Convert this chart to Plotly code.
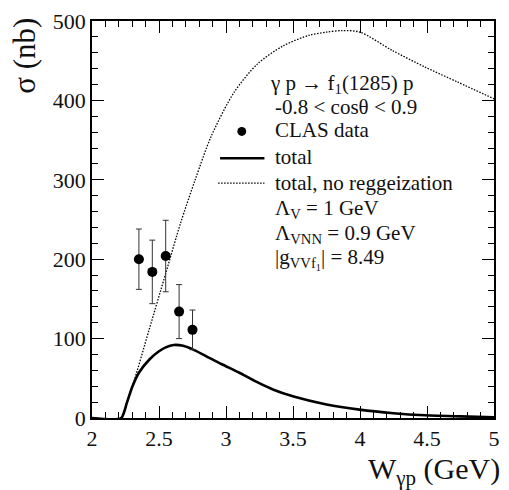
import plotly.graph_objects as go

# ---------------- data ----------------
clas_w = [2.35, 2.45, 2.55, 2.65, 2.75]
clas_sigma = [200, 184, 204, 134, 111]
clas_err = [38, 40, 45, 34, 25]

total_w = [2.0, 2.218, 2.26, 2.30, 2.35, 2.43, 2.50, 2.55, 2.61, 2.68, 2.745, 2.85,
           2.965, 3.10, 3.21, 3.35, 3.505, 3.75, 3.995, 4.25, 4.485, 4.75, 5.0]
total_sigma = [0, 0, 19, 39, 57, 74, 84, 89, 92, 91, 87, 78,
               68, 57, 47, 36, 27, 17, 10.5, 6, 3.4, 2, 1]

noregge_w = [2.218, 2.30, 2.426, 2.55, 2.66, 2.77, 2.89, 3.06, 3.235, 3.43,
             3.62, 3.75, 3.87, 4.0, 4.24, 4.485, 4.73, 5.0]
noregge_sigma = [0, 39, 111, 182, 245, 300, 355, 410, 446, 469,
                 482, 486, 488, 486, 463, 442, 423, 402]

x_ticks = [2, 2.5, 3, 3.5, 4, 4.5, 5]
x_ticklabels = ["2", "2.5", "3", "3.5", "4", "4.5", "5"]
y_ticks = [0, 100, 200, 300, 400, 500]
y_ticklabels = ["0", "100", "200", "300", "400", "500"]

legend_lines = [
    "γ p → f<sub>1</sub>(1285) p",
    "-0.8 < cosθ < 0.9",
    "CLAS data",
    "total",
    "total, no reggeization",
    "Λ<sub>V</sub> = 1 GeV",
    "Λ<sub>VNN</sub> = 0.9 GeV",
    "|g<sub>VVf<sub>1</sub></sub>| = 8.49",
]

# ---------------- layout geometry ----------------
W, H = 509, 490
ML, MR, MT, MB = 92, 9, 19, 72
PW, PH = W - ML - MR, H - MT - MB
FONT = "'Liberation Serif', 'DejaVu Serif', serif"
TXT = "#111111"


def px(x):
    return (x - ML) / PW


def py(y):
    return (H - MB - y) / PH


fig = go.Figure()

fig.add_trace(go.Scatter(
    x=noregge_w, y=noregge_sigma, mode="lines",
    line=dict(color="black", width=1.3, dash="1.5px,1.5px", shape="spline", smoothing=0.8),
    showlegend=False, hoverinfo="skip"))

fig.add_trace(go.Scatter(
    x=total_w, y=total_sigma, mode="lines",
    line=dict(color="black", width=2.6, shape="spline", smoothing=0.6),
    showlegend=False, hoverinfo="skip"))

fig.add_trace(go.Scatter(
    x=clas_w, y=clas_sigma, mode="markers",
    marker=dict(color="black", size=10),
    error_y=dict(type="data", array=clas_err, color="#333333", thickness=1, width=3),
    showlegend=False))

axis_common = dict(
    showline=True, linecolor="black", linewidth=1.5, mirror="ticks",
    ticks="inside", ticklen=12, tickwidth=1, tickcolor="black",
    showgrid=False, zeroline=False,
    tickfont=dict(family=FONT, size=22, color=TXT),
)

fig.update_xaxes(range=[2, 5], tickvals=x_ticks, ticktext=x_ticklabels,
                 minor=dict(dtick=0.1, ticklen=6, tickwidth=1, ticks="inside", tickcolor="black"),
                 **axis_common)
fig.update_yaxes(range=[0, 500], tickvals=y_ticks, ticktext=y_ticklabels,
                 minor=dict(dtick=20, ticklen=6, tickwidth=1, ticks="inside", tickcolor="black"),
                 **axis_common)

annotations = []
# axis titles
annotations.append(dict(x=px(508), y=py(471), xref="paper", yref="paper",
                        text="W<sub>γp</sub> (GeV)", showarrow=False,
                        xanchor="right", yanchor="middle",
                        font=dict(family=FONT, size=30, color=TXT)))
annotations.append(dict(x=px(24), y=py(54), xref="paper", yref="paper",
                        text="σ (nb)", showarrow=False, textangle=-90,
                        xanchor="center", yanchor="middle",
                        font=dict(family=FONT, size=31, color=TXT)))

row_y = [82, 105, 129, 156, 182, 208, 233, 258]
row_x = [271, 276, 276, 276, 276, 276, 276, 276]
for t, yy, xx in zip(legend_lines, row_y, row_x):
    annotations.append(dict(x=px(xx), y=py(yy), xref="paper", yref="paper",
                            text=t, showarrow=False, xanchor="left", yanchor="middle",
                            font=dict(family=FONT, size=21, color=TXT)))

shapes = [
    # legend marker for data
    dict(type="circle", xref="paper", yref="paper",
         x0=px(239.5), x1=px(248.5), y0=py(134.5), y1=py(125.5),
         fillcolor="black", line=dict(color="black", width=0)),
    # solid line sample
    dict(type="line", xref="paper", yref="paper",
         x0=px(222), x1=px(267), y0=py(157), y1=py(157),
         line=dict(color="black", width=2.6)),
    # dotted line sample
    dict(type="line", xref="paper", yref="paper",
         x0=px(220), x1=px(267), y0=py(182), y1=py(182),
         line=dict(color="black", width=1.3, dash="1.5px,1.5px")),
]

fig.update_layout(
    width=W, height=H,
    margin=dict(l=ML, r=MR, t=MT, b=MB),
    paper_bgcolor="white", plot_bgcolor="white",
    annotations=annotations, shapes=shapes,
    font=dict(family=FONT),
)

fig.write_html("out.html")
